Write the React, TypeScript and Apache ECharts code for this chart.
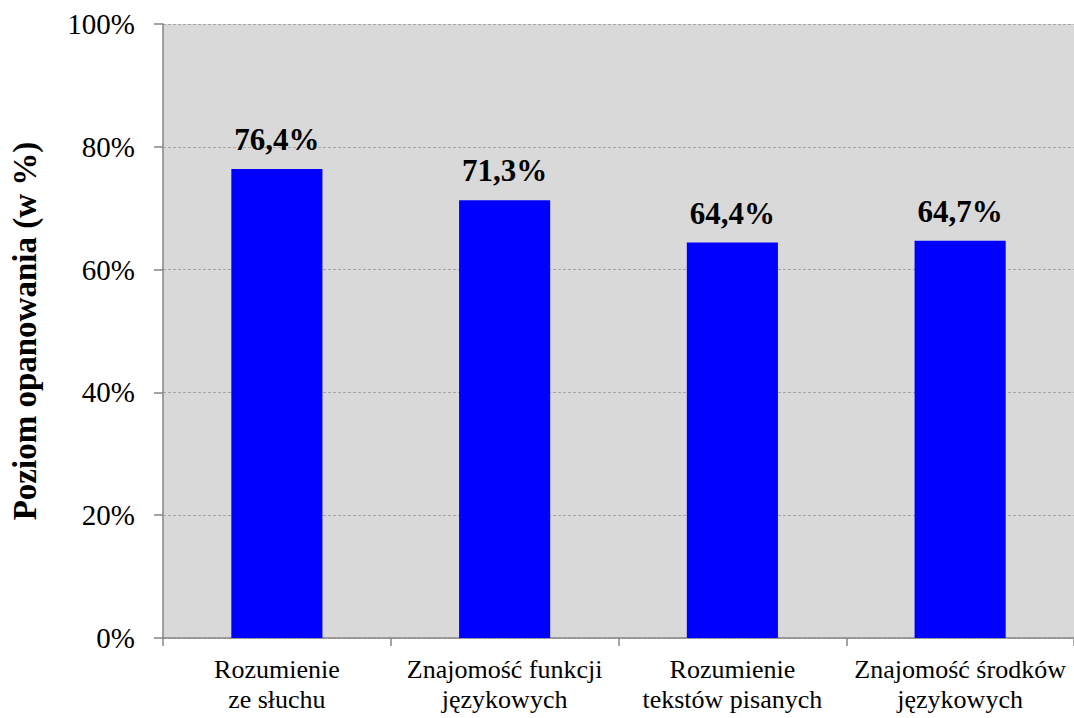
import React, { useEffect, useRef } from "react";
import * as echarts from "echarts";

const categories = [
  "Rozumienie\nze słuchu",
  "Znajomość funkcji\njęzykowych",
  "Rozumienie\ntekstów pisanych",
  "Znajomość środków\njęzykowych",
];
const values = [76.4, 71.3, 64.4, 64.7];
const yTicks = [0, 20, 40, 60, 80, 100];
const yAxisName = "Poziom opanowania (w %)";

const FONT = "Liberation Serif";

export default function App() {
  const ref = useRef<HTMLDivElement>(null);
  useEffect(() => {
    if (!ref.current) return;
    const chart = echarts.init(ref.current, undefined, { renderer: "svg" });
    chart.setOption({
      animation: false,
      backgroundColor: "#ffffff",
      textStyle: { fontFamily: FONT },
      grid: {
        left: 162,
        right: 0,
        top: 24,
        bottom: 80,
        show: true,
        backgroundColor: "#d9d9d9",
        borderWidth: 0,
      },
      xAxis: {
        type: "category",
        data: categories,
        axisLine: { show: true, lineStyle: { color: "#868686", width: 1.5 } },
        axisTick: { show: true, alignWithLabel: false, length: 8, lineStyle: { color: "#868686", width: 1.5 } },
        axisLabel: {
          color: "#000",
          fontFamily: FONT,
          fontSize: 26,
          lineHeight: 30,
          margin: 16,
          interval: 0,
        },
      },
      yAxis: {
        type: "value",
        min: 0,
        max: 100,
        interval: 20,
        name: yAxisName,
        nameLocation: "middle",
        nameGap: 122,
        nameTextStyle: { color: "#000", fontFamily: FONT, fontSize: 33, fontWeight: "bold" },
        axisLine: { show: true, lineStyle: { color: "#868686", width: 1.5 } },
        axisTick: { show: true, length: 9, lineStyle: { color: "#868686", width: 1.5 } },
        splitLine: { show: true, lineStyle: { color: "#a6a6a6", type: [3, 2], width: 1 } },
        axisLabel: {
          color: "#000",
          fontFamily: FONT,
          fontSize: 29,
          margin: 28,
          formatter: (v: number) => (yTicks.includes(v) ? `${v}%` : ""),
        },
      },
      series: [
        {
          type: "bar",
          data: values,
          barWidth: "40%",
          itemStyle: { color: "#0000ff" },
          label: {
            show: true,
            position: "top",
            distance: 14,
            color: "#000",
            fontFamily: FONT,
            fontSize: 31,
            fontWeight: "bold",
            formatter: (p: any) => `${p.value.toFixed(1).replace(".", ",")}%`,
          },
        },
      ],
    });
    return () => chart.dispose();
  }, []);
  return <div ref={ref} style={{ width: 1074, height: 718, position: "absolute", left: 0, top: 0 }} />;
}
